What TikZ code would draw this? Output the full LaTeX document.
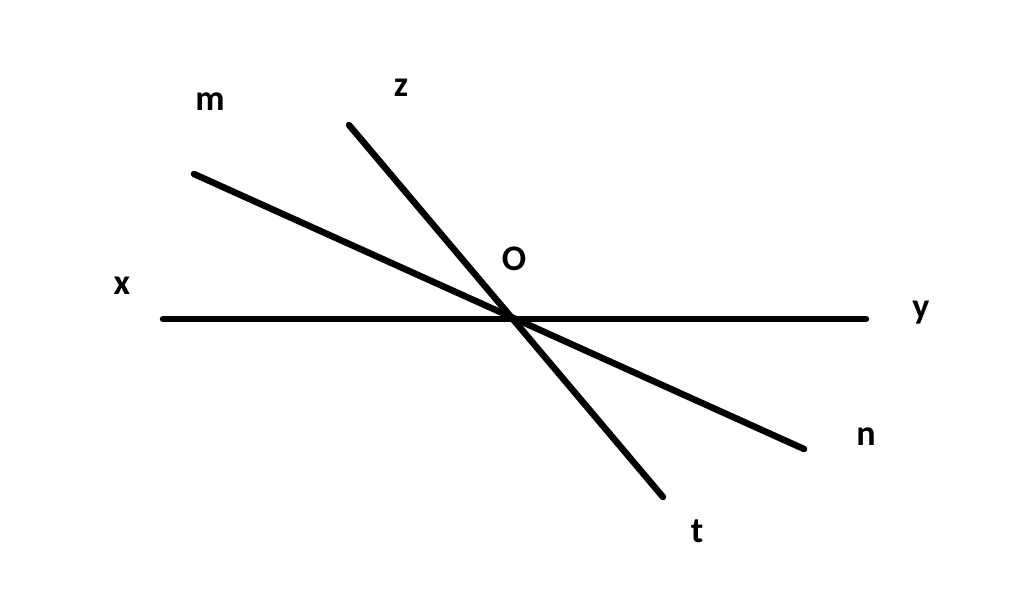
\documentclass[tikz,border=0pt]{standalone}
\usepackage{fontspec}
\setmainfont{Carlito}
\begin{document}
\begin{tikzpicture}[x=1pt,y=-1pt,
  ln/.style={line width=6.5pt,line cap=round},
  lbl/.style={font=\fontsize{36}{36}\selectfont\bfseries,inner sep=0pt}]
\useasboundingbox[fill=white] (0,0) rectangle (1024,613);
\coordinate (X) at (163,319);
\coordinate (Y) at (866,319);
\coordinate (M) at (194,174);
\coordinate (N) at (804,449);
\coordinate (Z) at (349,125);
\coordinate (T) at (663,497);
\coordinate (O) at (512,319);
\draw[ln] (X) -- (Y);
\draw[ln] (M) -- (N);
\draw[ln] (Z) -- (T);
\node[lbl] (lm) at (210,102) {m};
\node[lbl] (lz) at (401,88) {z};
\node[lbl] (lo) at (514,259) {O};
\node[lbl] (lx) at (122,286) {x};
\node[lbl] (ly) at (921,313) {y};
\node[lbl] (ln) at (866,437) {n};
\node[lbl] (lt) at (697,531) {t};
\end{tikzpicture}
\end{document}
